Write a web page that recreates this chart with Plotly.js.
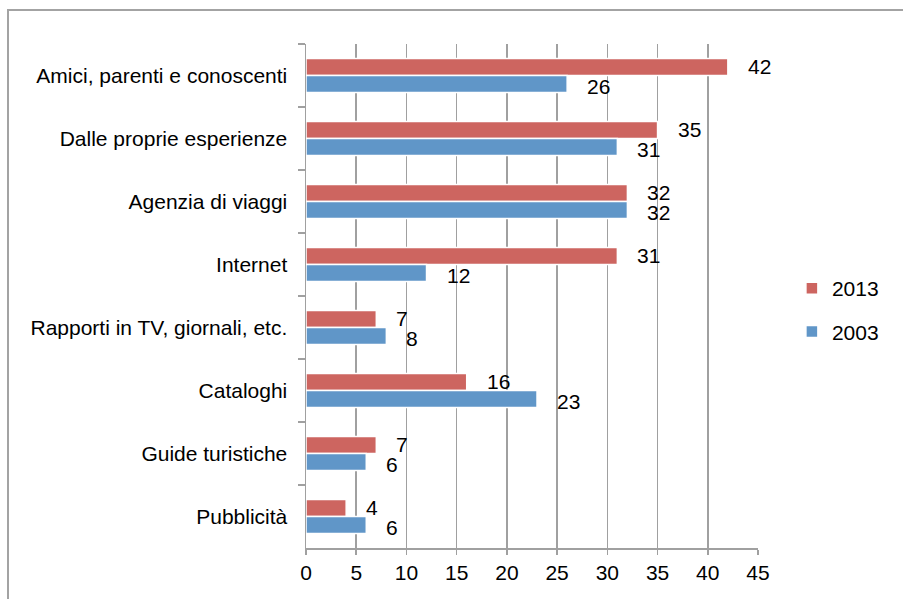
<!DOCTYPE html>
<html>
<head>
<meta charset="utf-8">
<script src="https://cdn.plot.ly/plotly-3.0.1.min.js"></script>
<style>
  html, body { margin: 0; padding: 0; background: #fff; }
  #wrap { position: relative; width: 903px; height: 599px; overflow: hidden; }
  #chart { position: absolute; left: 0; top: 0; width: 903px; height: 599px; }
  #frame { position: absolute; left: 7px; top: 9px; width: 1000px; height: 700px;
           border-left: 2px solid #a3a3a3; border-top: 2px solid #a3a3a3; pointer-events: none; }
</style>
</head>
<body>
<div id="wrap">
  <div id="chart"></div>
  <div id="frame"></div>
</div>
<script>
const categories = [
  "Amici, parenti e conoscenti",
  "Dalle proprie esperienze",
  "Agenzia di viaggi",
  "Internet",
  "Rapporti in TV, giornali, etc.",
  "Cataloghi",
  "Guide turistiche",
  "Pubblicità"
];
const values2013 = [42, 35, 32, 31, 7, 16, 7, 4];
const values2003 = [26, 31, 32, 12, 8, 23, 6, 6];
const seriesNames = ["2013", "2003"];
const xTickVals = [0, 5, 10, 15, 20, 25, 30, 35, 40, 45];

const RED = "#cd6560";
const BLUE = "#6096c8";
const FONT = "Liberation Sans, Arial, sans-serif";

const traces = [
  {
    type: "bar", orientation: "h", name: seriesNames[0], legendgroup: "a",
    y: categories, x: values2013,
    marker: { color: RED, line: { color: "#ffffff", width: 1.5 } },
    hoverinfo: "x+y"
  },
  {
    type: "bar", orientation: "h", name: seriesNames[1], legendgroup: "b",
    y: categories, x: values2003,
    marker: { color: BLUE, line: { color: "#ffffff", width: 1.5 } },
    hoverinfo: "x+y"
  }
];

const annotations = [];
categories.forEach((c, i) => {
  annotations.push({ x: values2013[i], y: c, xref: "x", yref: "y", text: String(values2013[i]),
    showarrow: false, xanchor: "left", yanchor: "middle", xshift: 18, yshift: 9,
    font: { family: FONT, size: 21, color: "#000" } });
  annotations.push({ x: values2003[i], y: c, xref: "x", yref: "y", text: String(values2003[i]),
    showarrow: false, xanchor: "left", yanchor: "middle", xshift: 18, yshift: -11,
    font: { family: FONT, size: 21, color: "#000" } });
});

const layout = {
  width: 903, height: 599,
  margin: { l: 306, r: 145, t: 44, b: 51, pad: 0, autoexpand: false },
  paper_bgcolor: "rgba(0,0,0,0)",
  plot_bgcolor: "rgba(0,0,0,0)",
  font: { family: FONT, size: 21, color: "#000" },
  barmode: "group",
  bargap: 0.46,
  bargroupgap: 0,
  showlegend: true,
  legend: {
    x: 1.075, y: 0.472, xanchor: "left", yanchor: "middle",
    font: { family: FONT, size: 21, color: "#000" },
    traceorder: "grouped",
    tracegroupgap: 13,
    bgcolor: "rgba(0,0,0,0)"
  },
  xaxis: {
    range: [0, 45],
    tickvals: xTickVals,
    ticks: "outside", ticklen: 5, tickcolor: "#a0a0a0", tickwidth: 1.5,
    showgrid: true, gridcolor: "#a0a0a0", gridwidth: 1.5,
    showline: true, linecolor: "#a0a0a0", linewidth: 1.5,
    zeroline: false,
    tickfont: { family: FONT, size: 21, color: "#000" },
    fixedrange: true
  },
  yaxis: {
    type: "category",
    autorange: "reversed",
    ticks: "outside", ticklen: 7, tickcolor: "#a0a0a0", tickwidth: 1.5,
    tickson: "boundaries",
    ticklabelstandoff: 13,
    showgrid: false,
    showline: true, linecolor: "#a0a0a0", linewidth: 1.5,
    zeroline: false,
    tickfont: { family: FONT, size: 21, color: "#000" },
    fixedrange: true
  },
  annotations: annotations
};

Plotly.newPlot("chart", traces, layout, { displayModeBar: false, staticPlot: true });
</script>
</body>
</html>
